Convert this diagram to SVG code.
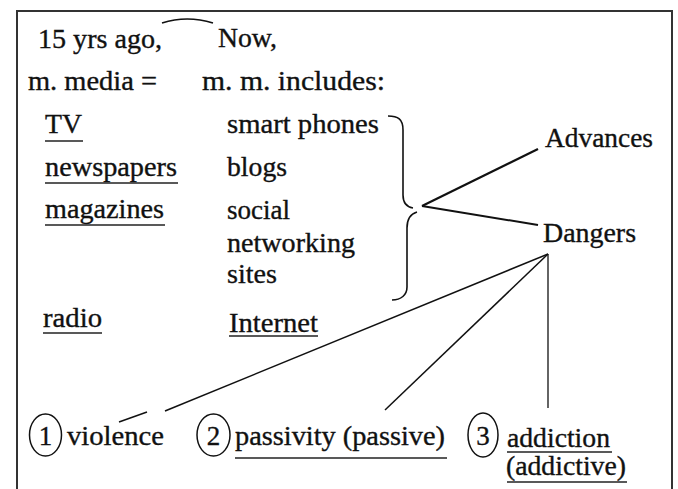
<svg xmlns="http://www.w3.org/2000/svg" width="678" height="489" viewBox="0 0 678 489">
<style>
text{font-family:"Liberation Serif","Times New Roman",serif;font-size:27px;fill:#111;stroke:#111;stroke-width:0.35}
.u{stroke:#222;stroke-width:1.6;fill:none}
.c{stroke:#111;fill:none}
.num{text-anchor:middle}
</style>
<rect width="678" height="489" fill="#fff"/>
<g id="frame" fill="none" stroke="#333" stroke-width="2">
<path d="M17,489 V11 H672 V489"/>
</g>
<g id="header-past"><text x="38" y="48" textLength="124" lengthAdjust="spacingAndGlyphs">15 yrs ago,</text><text x="28" y="90" textLength="129" lengthAdjust="spacingAndGlyphs">m. media =</text></g>
<g id="header-now"><text x="218" y="47" textLength="59" lengthAdjust="spacingAndGlyphs">Now,</text><text x="202" y="90" textLength="183" lengthAdjust="spacingAndGlyphs">m. m. includes:</text></g>
<path class="c" stroke-width="1.6" d="M162,23 Q187,15 213,23"/>
<g id="tv"><text x="45" y="133" textLength="37" lengthAdjust="spacingAndGlyphs">TV</text><line class="u" x1="45" y1="141" x2="83" y2="141"/></g>
<g id="newspapers"><text x="45" y="176" textLength="132" lengthAdjust="spacingAndGlyphs">newspapers</text><line class="u" x1="45" y1="183" x2="178" y2="183"/></g>
<g id="magazines"><text x="45" y="218" textLength="119" lengthAdjust="spacingAndGlyphs">magazines</text><line class="u" x1="45" y1="225" x2="165" y2="225"/></g>
<g id="radio"><text x="43" y="327" textLength="59" lengthAdjust="spacingAndGlyphs">radio</text><line class="u" x1="43" y1="333" x2="102" y2="333"/></g>
<g id="smart-phones"><text x="227" y="133" textLength="152" lengthAdjust="spacingAndGlyphs">smart phones</text></g>
<g id="blogs"><text x="227" y="176" textLength="60" lengthAdjust="spacingAndGlyphs">blogs</text></g>
<g id="social-networking-sites"><text x="227" y="219" textLength="63" lengthAdjust="spacingAndGlyphs">social</text><text x="227" y="252" textLength="128" lengthAdjust="spacingAndGlyphs">networking</text><text x="227" y="283" textLength="50" lengthAdjust="spacingAndGlyphs">sites</text></g>
<g id="internet"><text x="229" y="332" textLength="89" lengthAdjust="spacingAndGlyphs">Internet</text><line class="u" x1="229" y1="336" x2="318" y2="336"/></g>
<g id="brace"><path class="c" stroke-width="1.6" d="M388,116 C398,116 403,119 403,130 V195 C403,203 407,207 413,208"/><path class="c" stroke-width="1.6" d="M417,212 C410,214 407,219 407,228 V287 C407,295 401,300 392,300"/></g>
<g id="advances"><text x="545" y="147" textLength="108" lengthAdjust="spacingAndGlyphs">Advances</text></g>
<g id="dangers"><text x="543" y="242" textLength="93" lengthAdjust="spacingAndGlyphs">Dangers</text></g>
<g id="violence"><ellipse class="c" stroke-width="1.5" cx="45.5" cy="435" rx="16" ry="21"/><text class="num" x="45.5" y="445">1</text><text x="67" y="445" textLength="97" lengthAdjust="spacingAndGlyphs">violence</text></g>
<g id="passivity"><ellipse class="c" stroke-width="1.5" cx="213.5" cy="435" rx="16.5" ry="21"/><text class="num" x="213.5" y="445">2</text><text x="235" y="445" textLength="210" lengthAdjust="spacingAndGlyphs">passivity (passive)</text><line class="u" x1="235" y1="458" x2="447" y2="458"/></g>
<g id="addiction"><ellipse class="c" stroke-width="1.5" cx="483" cy="435" rx="15" ry="22"/><text class="num" x="483" y="445">3</text><text x="507" y="447" textLength="103" lengthAdjust="spacingAndGlyphs">addiction</text><line class="u" x1="507" y1="452" x2="612" y2="452"/><text x="506" y="475" textLength="120" lengthAdjust="spacingAndGlyphs">(addictive)</text><line class="u" x1="507" y1="482" x2="627" y2="482"/></g>
<g id="connectors" stroke="#111" fill="none">
<line x1="422" y1="206" x2="538" y2="149" stroke-width="2.2"/>
<line x1="422" y1="206" x2="538" y2="225" stroke-width="2"/>
<line x1="548" y1="254" x2="165" y2="411" stroke-width="1.5"/>
<line x1="147" y1="412" x2="119" y2="422" stroke-width="1.5"/>
<line x1="548" y1="254" x2="385" y2="410" stroke-width="1.5"/>
<line x1="548" y1="254" x2="548" y2="408" stroke-width="1.3"/>
</g>
</svg>
